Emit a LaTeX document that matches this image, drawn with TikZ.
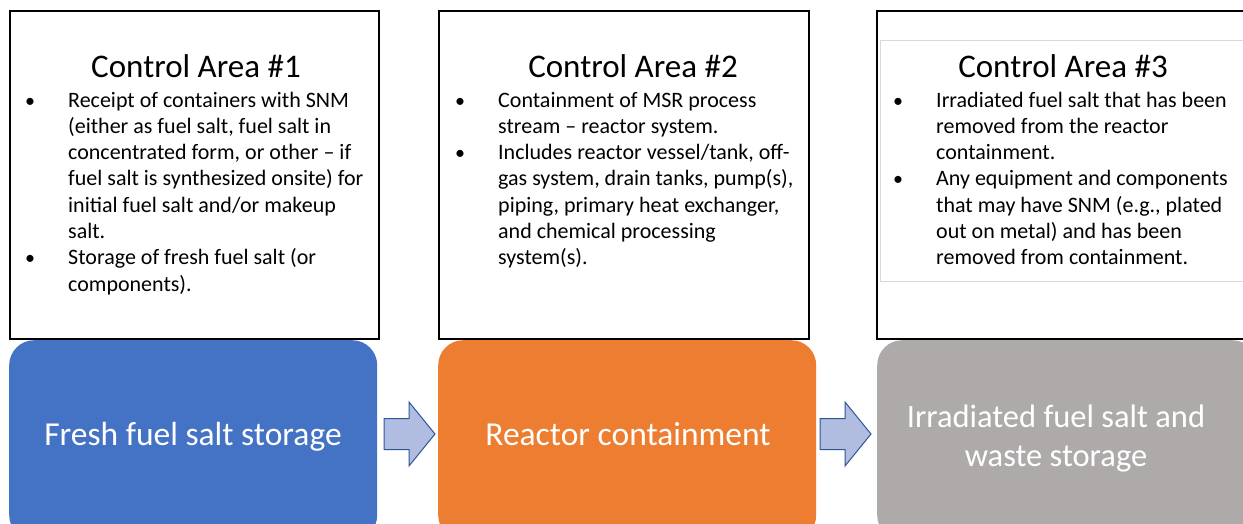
\documentclass[tikz,border=0pt]{standalone}
\usepackage{fontspec}
\setmainfont{Carlito}
\definecolor{cablue}{HTML}{4472C4}
\definecolor{caorange}{HTML}{ED7D31}
\definecolor{cagray}{HTML}{AEAAAA}
\definecolor{arrfill}{HTML}{B0BDE0}
\definecolor{arrdraw}{HTML}{2F5597}
\definecolor{innergray}{HTML}{D9D9D9}
\begin{document}
\begin{tikzpicture}[x=1pt,y=-1pt,
  areabox/.style={draw=black, line width=1.5pt},
  areatitle/.style={font=\fontsize{33}{38}\selectfont, anchor=base, inner sep=0pt},
  bodytext/.style={font=\fontsize{22}{26.3}\selectfont, align=left, anchor=base west, inner sep=0pt},
  bul/.style={font=\fontsize{20}{26.3}\selectfont, anchor=base, inner sep=0pt},
  stagebox/.style={rounded corners=25pt, draw=none, anchor=north west, inner sep=0pt},
  stagetext/.style={text=white, font=\fontsize{33.5}{39}\selectfont, align=center, anchor=base, inner sep=0pt},
  blockarrow/.style={fill=arrfill, draw=arrdraw, line width=1pt, line join=miter}]
\useasboundingbox (0,0) rectangle (1243,523);
\clip (0,0) rectangle (1243,523);
\fill[white] (0,0) rectangle (1243,523);

% control area boxes
\node[areabox, anchor=north west, minimum width=369pt, minimum height=328pt, inner sep=0pt] (box1) at (9,10) {};
\node[areabox, anchor=north west, minimum width=370pt, minimum height=328pt, inner sep=0pt] (box2) at (438,10) {};
\node[areabox, anchor=north west, minimum width=380pt, minimum height=328pt, inner sep=0pt] (box3) at (876,10) {};
\draw[innergray, line width=0.8pt] (880,40) rectangle (1260,281);

% titles
\node[areatitle] (t1) at (196,77) {Control Area \#1};
\node[areatitle] (t2) at (633,77) {Control Area \#2};
\node[areatitle] (t3) at (1063,77) {Control Area \#3};

% box 1 text (base anchor = baseline of last line)
\node[bul] (b11) at (30,107) {•};
\node[bodytext] (p11) at (68,238.5) {Receipt of containers with SNM\\(either as fuel salt, fuel salt in\\concentrated form, or other – if\\fuel salt is synthesized onsite) for\\initial fuel salt and/or makeup\\salt.};
\node[bul] (b12) at (30,264.8) {•};
\node[bodytext] (p12) at (68,291.1) {Storage of fresh fuel salt (or\\components).};

% box 2 text
\node[bul] (b21) at (460,107) {•};
\node[bodytext] (p21) at (498,133.3) {Containment of MSR process\\stream – reactor system.};
\node[bul] (b22) at (460,159.6) {•};
\node[bodytext] (p22) at (498,264.8) {Includes reactor vessel/tank, off-\\gas system, drain tanks, pump(s),\\piping, primary heat exchanger,\\and chemical processing\\system(s).};

% box 3 text
\node[bul] (b31) at (898,107) {•};
\node[bodytext] (p31) at (936,159.6) {Irradiated fuel salt that has been\\removed from the reactor\\containment.};
\node[bul] (b32) at (898,185.9) {•};
\node[bodytext] (p32) at (936,264.8) {Any equipment and components\\that may have SNM (e.g., plated\\out on metal) and has been\\removed from containment.};

% stage boxes
\node[stagebox, fill=cablue, minimum width=368pt, minimum height=200pt] (fresh) at (9,340) {};
\node[stagebox, fill=caorange, minimum width=378pt, minimum height=200pt] (reactor) at (438,340) {};
\node[stagebox, fill=cagray, minimum width=380pt, minimum height=200pt] (irr) at (877,340) {};
\node[stagetext] (ft) at (193,445) {Fresh fuel salt storage};
\node[stagetext] (rt) at (628,445) {Reactor containment};
\node[stagetext, font=\fontsize{32.5}{39}\selectfont] (it) at (1056,466) {Irradiated fuel salt and\\waste storage};

% block arrows
\coordinate (a1) at (384,434);
\coordinate (a2) at (820,434);
\draw[blockarrow] (a1) ++(0,-15.5) -- ++(25,0) -- ++(0,-16.5) -- ++(26,32) -- ++(-26,32) -- ++(0,-16.5) -- ++(-25,0) -- cycle;
\draw[blockarrow] (a2) ++(0,-15.5) -- ++(25,0) -- ++(0,-16.5) -- ++(26,32) -- ++(-26,32) -- ++(0,-16.5) -- ++(-25,0) -- cycle;
\end{tikzpicture}
\end{document}
